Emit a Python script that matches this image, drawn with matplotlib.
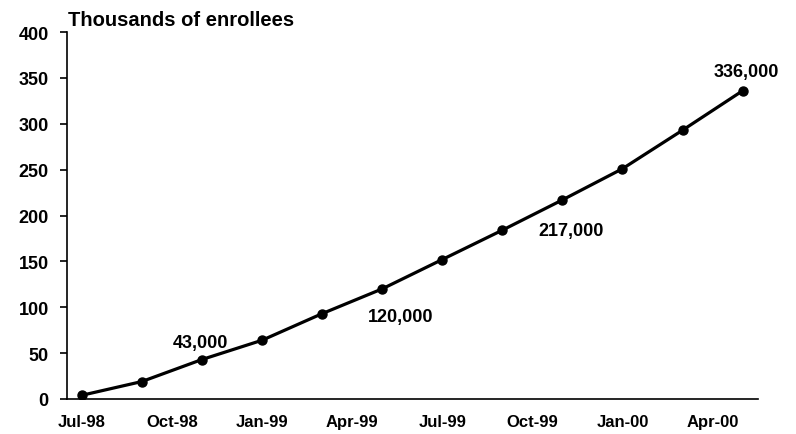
import matplotlib
matplotlib.use("Agg")
import matplotlib.pyplot as plt

plt.rcParams["font.family"] = ["Liberation Sans", "DejaVu Sans"]
plt.rcParams["font.weight"] = "bold"

# enrollment, thousands, sampled every two months from Jul-98
months = list(range(0, 24, 2))
enrollees = [4, 19, 43, 64, 93, 120, 152, 184, 217, 251, 293, 336]

tick_months = [0, 3, 6, 9, 12, 15, 18, 21]
tick_labels = ["Jul-98", "Oct-98", "Jan-99", "Apr-99", "Jul-99", "Oct-99", "Jan-00", "Apr-00"]

# which points get a value label, and where it sits (offset in points)
callouts = {2: (-1, 12), 5: (13, -20), 8: (6, -22), 11: (3, 14)}

fig = plt.figure(figsize=(7.96, 4.35), dpi=100)
ax = fig.add_axes([0.0838, 0.0805, 0.868, 0.8435])

ax.plot(months, enrollees, color="black", linewidth=2.3,
        marker="o", markersize=6.5, solid_joinstyle="round")

for i, (dx, dy) in callouts.items():
    ax.annotate(f"{enrollees[i] * 1000:,}", (months[i], enrollees[i]),
                xytext=(dx, dy), textcoords="offset points",
                ha="center", va="center", fontsize=13, fontweight="bold")

ax.set_xlim(-0.5, 22.5)
ax.set_ylim(0, 400)
ax.set_yticks(range(0, 401, 50))
ax.set_xticks(tick_months)
ax.set_xticklabels(tick_labels)

ax.spines["top"].set_visible(False)
ax.spines["right"].set_visible(False)
for s in ("left", "bottom"):
    ax.spines[s].set_linewidth(1.2)

ax.tick_params(axis="x", length=0, pad=11, labelsize=12)
ax.tick_params(axis="y", length=5, width=1.2, pad=8, labelsize=13)

fig.text(0.0855, 0.940, "Thousands of enrollees", fontsize=14.5, fontweight="bold",
         ha="left", va="baseline")

fig.savefig("out.png", dpi=100)
